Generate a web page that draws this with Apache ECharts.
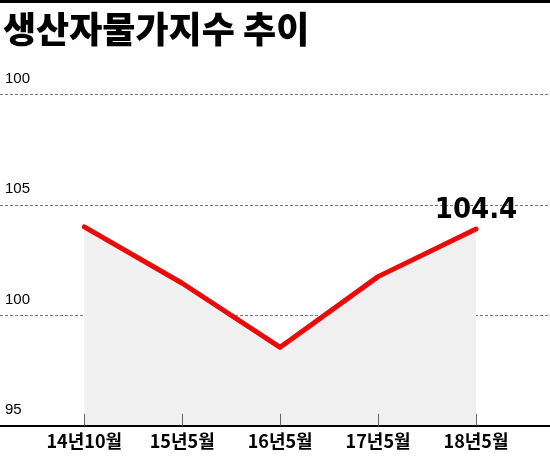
<!DOCTYPE html>
<html>
<head>
<meta charset="utf-8">
<script src="https://cdn.jsdelivr.net/npm/echarts@6/dist/echarts.min.js"></script>
<style>html,body{margin:0;padding:0;background:#fff}#c{width:550px;height:457px}</style>
</head>
<body>
<div id="c"></div>
<script>
var title = '생산자물가지수 추이';
var categories = ['14년10월', '15년5월', '16년5월', '17년5월', '18년5월'];
var values = [104.0, 101.45, 98.55, 101.75, 103.9];
var yTickValues = [95, 100, 105, 110];
var yTickLabels = ['95', '100', '105', '100'];
var lastLabel = '104.4';

var chart = echarts.init(document.getElementById('c'), null, {renderer: 'canvas'});
var gridTop = 94.3, gridBottom = 457 - 425.8;
var seriesData = values.map(function (v, i) {
  if (i === values.length - 1) {
    return {value: v, label: {show: true, formatter: lastLabel}};
  }
  return v;
});
chart.setOption({
  animation: false,
  backgroundColor: '#fff',
  graphic: [
    {type: 'rect', left: 0, top: 0, shape: {width: 550, height: 3}, style: {fill: '#000'}},
    {type: 'text', left: 3, top: 11, style: {text: title, fontSize: 36, fontWeight: 900, fill: '#000', fontFamily: "'Noto Sans CJK KR', sans-serif"}}
  ],
  grid: [
    {left: 0, right: 0, top: gridTop, bottom: gridBottom},
    {left: 84.3, right: 550 - 476, top: gridTop, bottom: gridBottom}
  ],
  xAxis: [
    {gridIndex: 0, type: 'category', data: [''], z: 10, axisLine: {show: true, lineStyle: {color: '#000', width: 2}}, axisTick: {show: false}, axisLabel: {show: false}, splitLine: {show: false}},
    {gridIndex: 1, type: 'category', data: categories, boundaryGap: false, z: 10,
      axisLine: {show: false},
      axisTick: {show: true, inside: true, interval: 0, length: 12, lineStyle: {color: '#666', width: 1}},
      axisLabel: {show: true, interval: 0, margin: 6, color: '#000', fontSize: 18, fontWeight: 'bold', fontFamily: "'Noto Sans CJK KR', sans-serif"},
      splitLine: {show: false}}
  ],
  yAxis: [
    {gridIndex: 0, type: 'value', min: 95, max: 110, interval: 5,
      axisLine: {show: false}, axisTick: {show: false},
      axisLabel: {show: true, inside: true, margin: 5, align: 'left', verticalAlign: 'bottom', padding: [0, 0, 8, 0],
        color: '#000', fontSize: 15, fontFamily: "'Liberation Sans', Arial, sans-serif",
        formatter: function (v) { var i = yTickValues.indexOf(v); return i >= 0 ? yTickLabels[i] : ''; }},
      splitLine: {show: true, lineStyle: {color: '#777', width: 1, type: [3, 2]}}},
    {gridIndex: 1, type: 'value', min: 95, max: 110, interval: 5, show: false, splitLine: {show: false}}
  ],
  series: [
    {type: 'line', xAxisIndex: 1, yAxisIndex: 1, data: seriesData, symbol: 'circle', symbolSize: 0, showSymbol: true, z: 5,
      lineStyle: {color: '#ea0a0a', width: 5, cap: 'round', join: 'round'},
      itemStyle: {color: '#ea0a0a'},
      areaStyle: {color: '#f0f0f0', opacity: 1, origin: 'start'},
      label: {show: false, position: 'top', distance: 4, color: '#000', fontSize: 29, fontWeight: 'bold',
        fontFamily: "'Liberation Sans Narrow', 'DejaVu Sans Condensed', sans-serif"}}
  ]
});
</script>
</body>
</html>
